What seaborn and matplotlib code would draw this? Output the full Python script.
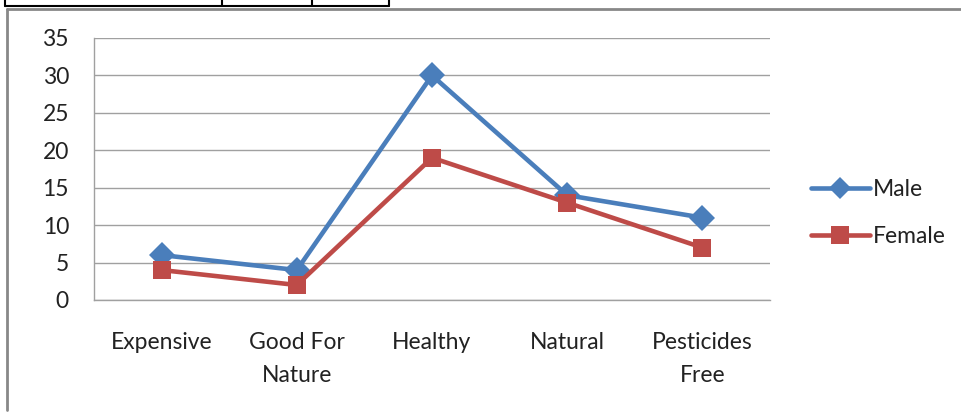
import pandas as pd
import seaborn as sns
import matplotlib.pyplot as plt
from matplotlib.lines import Line2D

# Dane
categories = ['Expensive', 'Good For\nNature', 'Healthy', 'Natural', 'Pesticides\nFree']
male = [6, 4, 30, 14, 11]
female = [4, 2, 19, 13, 7]

df = pd.DataFrame({'Category': categories, 'Male': male, 'Female': female})
df['pos'] = range(len(categories))
long = df.melt(id_vars=['Category', 'pos'], value_vars=['Male', 'Female'],
               var_name='Gender', value_name='Count')

sns.set_style('white')
plt.rcParams['font.family'] = ['Lato', 'DejaVu Sans']

fig = plt.figure(figsize=(9.62, 4.12), dpi=100)
ax = fig.add_axes([94 / 962, 1 - 300 / 412, (770 - 94) / 962, (300 - 38) / 412])

palette = {'Male': '#4A7EBB', 'Female': '#BE4B48'}
sns.lineplot(data=long, x='pos', y='Count', hue='Gender', style='Gender',
             markers={'Male': 'D', 'Female': 's'}, dashes=False,
             palette=palette, linewidth=3.3, markersize=13,
             markeredgewidth=0, ax=ax, legend=False)

ax.set_xlim(-0.5, len(categories) - 0.5)
ax.set_ylim(0, 35)
ax.set_yticks(range(0, 36, 5))
ax.set_xticks([i - 0.5 for i in range(len(categories) + 1)])
ax.set_xticklabels([])
ax.set_xticks(df['pos'], minor=True)
ax.set_xticklabels(categories, minor=True, linespacing=1.7)
grey = '#A0A0A0'
ax.tick_params(axis='x', which='major', direction='out', length=6, color=grey, width=1)
ax.tick_params(axis='x', which='minor', length=0, pad=23, labelsize=16.5, labelcolor='#222222')
ax.tick_params(axis='y', direction='out', length=6, color=grey, width=1, pad=12,
               labelsize=16.5, labelcolor='#222222')
ax.grid(axis='y', color=grey, linewidth=1)
ax.grid(axis='x', visible=False)
ax.set_xlabel('')
ax.set_ylabel('')
for side in ['top', 'right']:
    ax.spines[side].set_visible(False)
for side in ['left', 'bottom']:
    ax.spines[side].set_color(grey)
    ax.spines[side].set_linewidth(1)
ax.set_axisbelow(True)

handles = [Line2D([], [], color=palette['Male'], marker='D', linewidth=3.3, markersize=11, markeredgewidth=0),
           Line2D([], [], color=palette['Female'], marker='s', linewidth=3.3, markersize=13, markeredgewidth=0)]
fig.legend(handles, ['Male', 'Female'], loc='center left', bbox_to_anchor=(790 / 962, 1 - 213 / 412),
           frameon=False, fontsize=16.5, handlelength=2.6, handletextpad=0.1, labelspacing=1.1,
           labelcolor='#222222')

# ramki dokumentu
def px_line(x0, y0, x1, y1, color, lw):
    fig.add_artist(Line2D([x0 / 962, x1 / 962], [1 - y0 / 412, 1 - y1 / 412],
                          transform=fig.transFigure, color=color, linewidth=lw))

px_line(5, 6, 389, 6, 'black', 1.5)
for x in [5, 222, 312, 389]:
    px_line(x, 0, x, 6, 'black', 1.5)
px_line(7, 9, 962, 9, '#888888', 2)
px_line(7, 9, 7, 410, '#888888', 2)

fig.savefig('out.png', dpi=100)
